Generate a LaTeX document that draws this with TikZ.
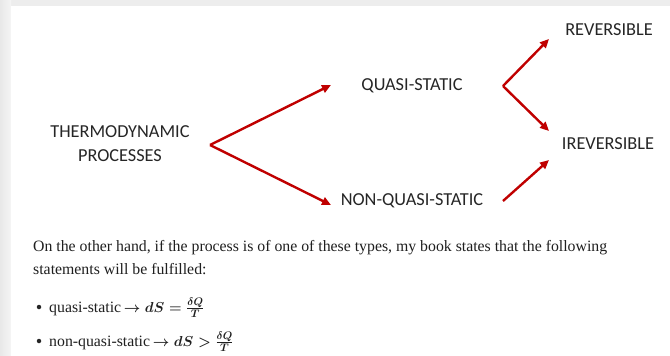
\documentclass[tikz,border=0pt]{standalone}
\usepackage{fontspec}
\setmainfont{Liberation Serif}
\newfontfamily\diagfont{Carlito}
\usetikzlibrary{arrows.meta}
\definecolor{arrowred}{HTML}{C00000}
\definecolor{txtgray}{HTML}{262626}
\tikzset{
  flow/.style={draw=arrowred, line width=2.4pt, -{Triangle[length=9pt,width=8pt]}},
  label/.style={font=\diagfont\fontsize{18.3}{24}\selectfont, text=txtgray, inner sep=0pt, align=center},
  body/.style={font=\fontsize{15.8}{19}\selectfont, text=black!88, inner sep=0pt, anchor=base west},
  dot/.style={circle, fill=black!85, inner sep=0pt, minimum size=4.5pt}
}
\begin{document}
\begin{tikzpicture}[x=1pt,y=-1pt]
\useasboundingbox (0,0) rectangle (670,356);
\fill[black!7] (0,0) rectangle (670,356);
\shade[left color=black!9, right color=black!4] (0,0) rectangle (11,356);
\fill[white] (11,6) rectangle (670,356);

% nodes
\node[label] (tp) at (120,144) {THERMODYNAMIC\\PROCESSES};
\node[label] (qs) at (412,86) {QUASI-STATIC};
\node[label] (nqs) at (412,201) {NON-QUASI-STATIC};
\node[label] (rev) at (609,30) {REVERSIBLE};
\node[label] (irev) at (608,144) {IREVERSIBLE};

% connector points
\coordinate (v1) at (210,145);
\coordinate (t1) at (331,85);
\coordinate (t2) at (331,205);
\coordinate (v2) at (503,86);
\coordinate (t3) at (549,39);
\coordinate (t4) at (549,131);
\coordinate (s5) at (503,201);
\coordinate (t5) at (549,160);

\draw[flow] (v1) -- (t1);
\draw[flow] (v1) -- (t2);
\draw[flow] (v2) -- (t3);
\draw[flow] (v2) -- (t4);
\draw[flow] (s5) -- (t5);

% body text
\node[body] (p1) at (33,251) {On the other hand, if the process is of one of these types, my book states that the following};
\node[body] (p2) at (33,274) {statements will be fulfilled:};
\node[dot] (b1) at (39,307) {};
\node[body] (l1) at (49,312) {quasi-static\,{\boldmath$\to dS=\frac{\delta Q}{T}$}};
\node[dot] (b2) at (39,341) {};
\node[body] (l2) at (49,346) {non-quasi-static\,{\boldmath$\to dS>\frac{\delta Q}{T}$}};
\end{tikzpicture}
\end{document}
